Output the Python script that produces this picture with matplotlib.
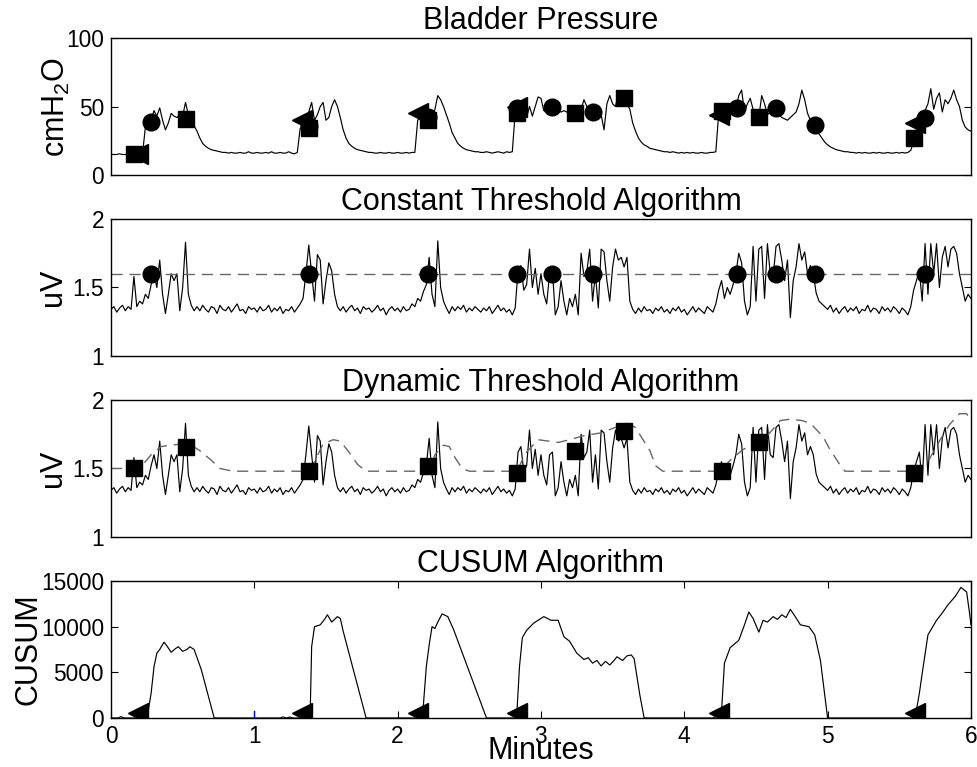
import numpy as np
import matplotlib
matplotlib.use('Agg')
import matplotlib.pyplot as plt

plt.rcParams['font.family'] = ['Liberation Sans', 'DejaVu Sans']

# sample grid, minutes (0.02 min step)
t = np.arange(301) * 0.02

# bladder pressure, cmH2O
pres = [
    15, 15, 15, 15.5, 15, 15, 14.5, 15, 15, 15,
    15, 15.5, 35, 38, 40, 47, 43, 49, 40, 33,
    38, 45, 43, 42, 44, 43, 53, 44, 42, 36,
    32, 27, 23, 21, 19.5, 18.5, 18, 17.5, 17, 16.5,
    16.5, 16, 16.5, 16, 16, 16.5, 16, 16, 17, 16,
    16, 16.5, 16, 16, 16.5, 16, 17, 16, 16, 16.5,
    16, 16, 17, 16, 15.5, 16.5, 34, 36, 40, 46,
    53, 40, 44, 50, 53, 40, 42, 50, 55, 50,
    42, 33, 27, 23, 21, 19.5, 18.5, 18, 17.5, 17,
    16.5, 16.5, 16, 16, 16.5, 16, 16, 16.5, 16, 16,
    16.5, 16, 16, 16.5, 16, 16.5, 16.5, 40, 42, 44,
    46, 47, 41, 48, 58, 55, 50, 44, 38, 31,
    27, 23, 21, 19.5, 18.5, 18, 17.5, 17, 17, 16.5,
    16.5, 17, 16.5, 16, 16.5, 17, 16.5, 16, 17, 16.5,
    17, 45, 50, 48, 46, 42, 50, 43, 50, 57,
    56, 47, 46, 49, 50, 48, 47, 46, 47, 46,
    44, 45, 45, 47, 48, 55, 50, 47, 48, 50,
    47, 44, 33, 52, 58, 52, 50, 60, 57, 55,
    52, 48, 38, 32, 27, 24, 22, 21, 19.5, 19,
    18.5, 18, 17.5, 17, 17, 16.5, 17, 16.5, 16, 16.5,
    16, 16.5, 16, 16.5, 16, 16, 16.5, 16, 16, 16.5,
    16.5, 17, 45, 42, 40, 44, 47, 45, 48, 58,
    62, 46, 52, 56, 48, 38, 42, 58, 52, 44,
    46, 49, 48, 44, 42, 41, 40, 42, 44, 46,
    52, 62, 55, 45, 40, 37, 33, 30, 27, 24,
    22, 20.5, 19.5, 18.5, 18, 17.5, 17, 17, 16.5, 16.5,
    16, 16.5, 16, 16.5, 16, 16, 16.5, 16, 16.5, 16,
    16, 16.5, 16, 16, 16.5, 16, 16.5, 16, 16.5, 18,
    24, 30, 38, 44, 47, 52, 63, 48, 56, 60,
    46, 55, 52, 56, 62, 55, 50, 40, 35, 33,
    32]

# EMG envelope, uV
emg = [
    1.34, 1.36, 1.32, 1.35, 1.37, 1.33, 1.36, 1.34, 1.58, 1.36,
    1.40, 1.38, 1.45, 1.42, 1.52, 1.60, 1.50, 1.70, 1.45, 1.31,
    1.45, 1.60, 1.55, 1.60, 1.33, 1.50, 1.83, 1.45, 1.37, 1.33,
    1.36, 1.33, 1.37, 1.34, 1.32, 1.36, 1.35, 1.31, 1.37, 1.34,
    1.33, 1.36, 1.32, 1.35, 1.38, 1.33, 1.34, 1.31, 1.36, 1.34,
    1.35, 1.32, 1.36, 1.33, 1.34, 1.37, 1.32, 1.35, 1.33, 1.36,
    1.31, 1.34, 1.33, 1.36, 1.32, 1.35, 1.38, 1.42, 1.60, 1.81,
    1.60, 1.40, 1.74, 1.70, 1.38, 1.55, 1.68, 1.62, 1.45, 1.36,
    1.33, 1.36, 1.32, 1.35, 1.37, 1.33, 1.35, 1.31, 1.36, 1.34,
    1.35, 1.32, 1.34, 1.37, 1.33, 1.35, 1.30, 1.34, 1.36, 1.33,
    1.35, 1.32, 1.36, 1.33, 1.34, 1.38, 1.36, 1.42, 1.40, 1.47,
    1.52, 1.72, 1.45, 1.36, 1.84, 1.50, 1.40, 1.35, 1.31, 1.36,
    1.33, 1.36, 1.34, 1.37, 1.32, 1.35, 1.33, 1.36, 1.34, 1.32,
    1.35, 1.33, 1.36, 1.31, 1.34, 1.37, 1.33, 1.35, 1.32, 1.34,
    1.30, 1.35, 1.62, 1.66, 1.48, 1.52, 1.78, 1.50, 1.64, 1.45,
    1.60, 1.45, 1.38, 1.60, 1.62, 1.30, 1.36, 1.55, 1.40, 1.30,
    1.42, 1.36, 1.45, 1.30, 1.75, 1.58, 1.62, 1.78, 1.40, 1.60,
    1.35, 1.78, 1.76, 1.55, 1.40, 1.65, 1.78, 1.70, 1.72, 1.65,
    1.72, 1.40, 1.34, 1.31, 1.35, 1.32, 1.36, 1.33, 1.34, 1.31,
    1.35, 1.33, 1.36, 1.32, 1.34, 1.31, 1.35, 1.33, 1.36, 1.32,
    1.34, 1.30, 1.33, 1.36, 1.32, 1.35, 1.33, 1.31, 1.36, 1.34,
    1.32, 1.38, 1.48, 1.55, 1.42, 1.50, 1.45, 1.52, 1.60, 1.75,
    1.68, 1.40, 1.30, 1.36, 1.80, 1.40, 1.78, 1.80, 1.42, 1.82,
    1.60, 1.58, 1.80, 1.82, 1.70, 1.55, 1.70, 1.28, 1.55, 1.65,
    1.82, 1.70, 1.76, 1.60, 1.66, 1.60, 1.46, 1.40, 1.38, 1.36,
    1.34, 1.37, 1.32, 1.35, 1.31, 1.34, 1.36, 1.32, 1.35, 1.33,
    1.36, 1.31, 1.34, 1.33, 1.37, 1.32, 1.35, 1.34, 1.31, 1.36,
    1.33, 1.35, 1.32, 1.36, 1.34, 1.31, 1.35, 1.33, 1.30, 1.36,
    1.48, 1.55, 1.62, 1.40, 1.82, 1.45, 1.82, 1.60, 1.82, 1.50,
    1.72, 1.80, 1.65, 1.78, 1.80, 1.75, 1.60, 1.50, 1.40, 1.45,
    1.42]

const_thr = 1.6

# dynamic threshold
dyn_t = [0, 0.2, 0.28, 0.35, 0.5, 0.56, 0.62, 0.7, 0.76, 0.85,
         1.38, 1.42, 1.48, 1.55, 1.6, 1.66, 1.72, 1.78,
         2.22, 2.26, 2.32, 2.36, 2.4, 2.45, 2.5,
         2.83, 2.9, 2.98, 3.05, 3.12, 3.2, 3.3, 3.42, 3.52, 3.6,
         3.66, 3.7, 3.76, 3.8, 3.85, 3.9,
         4.26, 4.31, 4.4, 4.5, 4.58, 4.67, 4.74, 4.82, 4.88, 4.97,
         5.01, 5.09, 5.12,
         5.62, 5.7, 5.78, 5.85, 5.92, 5.97, 6.0]
dyn_v = [1.5, 1.5, 1.6, 1.66, 1.68, 1.67, 1.63, 1.56, 1.5, 1.48,
         1.48, 1.55, 1.68, 1.71, 1.7, 1.62, 1.53, 1.48,
         1.48, 1.6, 1.67, 1.66, 1.58, 1.5, 1.48,
         1.48, 1.62, 1.71, 1.70, 1.69, 1.71, 1.74, 1.76, 1.80, 1.83,
         1.80, 1.73, 1.63, 1.52, 1.48, 1.48,
         1.48, 1.55, 1.63, 1.70, 1.74, 1.85, 1.86, 1.85, 1.83, 1.73,
         1.65, 1.52, 1.48,
         1.48, 1.55, 1.70, 1.82, 1.9, 1.9, 1.85]

# CUSUM statistic
cus_t = [0, 0.05, 0.07, 0.09, 0.24, 0.26, 0.28, 0.3, 0.32, 0.34, 0.37, 0.39, 0.42,
         0.45, 0.47, 0.5, 0.53, 0.55, 0.58, 0.63, 0.72,
         1.18, 1.2, 1.22, 1.25, 1.27, 1.38, 1.39, 1.4, 1.42, 1.46, 1.49, 1.51, 1.54,
         1.58, 1.6, 1.62, 1.78,
         2.16, 2.18, 2.2, 2.22, 2.24, 2.26, 2.28, 2.31, 2.35, 2.39, 2.62,
         2.83, 2.85, 2.87, 2.9, 2.95, 3.02, 3.07, 3.12, 3.16, 3.2, 3.25, 3.3, 3.33,
         3.36, 3.39, 3.42, 3.45, 3.48, 3.51, 3.53, 3.57, 3.6, 3.63, 3.65, 3.69, 3.72,
         4.2, 4.22, 4.24, 4.26, 4.28, 4.32, 4.38, 4.42, 4.45, 4.48, 4.52, 4.55, 4.58,
         4.62, 4.65, 4.68, 4.71, 4.74, 4.77, 4.81, 4.87, 4.91, 4.95, 4.98, 5.0,
         5.61, 5.64, 5.66, 5.7, 5.73, 5.76, 5.8, 5.84, 5.89, 5.93, 5.97, 5.99, 6.0]
cus_v = [0, 0, 150, 0, 0, 800, 2700, 5600, 7100, 7500, 8300, 7900, 7200,
         7600, 7800, 7300, 7500, 7800, 7500, 5300, 0,
         0, 120, 0, 100, 0, 0, 600, 7800, 10000, 10200, 10800, 11300, 10500,
         11100, 10900, 9500, 0,
         0, 1500, 5600, 8000, 10000, 9800, 10500, 11400, 11100, 9700, 0,
         0, 5600, 8800, 9600, 10400, 11100, 10700, 10700, 8900, 8400, 7100, 6400, 6600,
         6000, 6300, 5700, 6200, 5800, 6300, 6700, 6300, 6800, 6900, 6500, 2500, 0,
         0, 150, 0, 800, 6000, 7700, 8500, 10200, 11600, 10900, 9400, 10700, 10500,
         11100, 10800, 11300, 11000, 11900, 11200, 10200, 10000, 9100, 6300, 2500, 0,
         0, 2700, 4900, 9100, 9900, 10700, 11500, 12400, 13300, 14300, 13800, 11500, 10200]

# detections
const_det_t = [0.28, 1.38, 2.21, 2.83, 3.08, 3.36, 4.37, 4.64, 4.91, 5.68]
const_det_p = [38.7, 36, 42, 49, 50, 46, 49, 49, 36.5, 41.5]
dyn_det_t = [0.16, 0.52, 1.38, 2.21, 2.83, 3.24, 3.58, 4.26, 4.52, 5.60]
dyn_det_v = [1.50, 1.66, 1.48, 1.52, 1.47, 1.63, 1.77, 1.48, 1.69, 1.47]
dyn_det_p = [15, 41, 34, 40, 45, 45, 56, 47, 42, 27]
cus_det_t = [0.19, 1.33, 2.14, 2.83, 4.24, 5.61]
cus_det_v = [550, 550, 550, 550, 550, 550]
cus_det_p = [15, 40, 45, 50, 44, 38]

blip_t = [1, 1]
blip_v = [0, 800]

fig = plt.figure(figsize=(9.77, 7.67), dpi=100)
left, width, height = 0.1136, 0.8802, 0.1786
bottoms = [0.7718, 0.5359, 0.2999, 0.0639]
axes = [fig.add_axes([left, b, width, height]) for b in bottoms]

ms_sq, ms_ci, ms_tri = 11.5, 12, 15
lw_sig = 0.85
dash = (0, (8, 5))
dcol = '0.4'

ax1, ax2, ax3, ax4 = axes

ax1.plot(t, pres, color='k', lw=lw_sig)
ax1.plot(dyn_det_t, dyn_det_p, 's', color='k', ms=ms_sq)
ax1.plot(const_det_t, const_det_p, 'o', color='k', ms=ms_ci)
ax1.plot(cus_det_t, cus_det_p, '<', color='k', ms=ms_tri)
ax1.set_ylim(0, 100)
ax1.set_yticks([0, 50, 100])
ax1.set_title('Bladder Pressure', fontsize=22, pad=6.3)
ax1.set_ylabel('cmH$_\\mathregular{2}$O', fontsize=22)

ax2.plot(t, emg, color='k', lw=lw_sig)
ax2.plot([0, 6], [const_thr, const_thr], color=dcol, lw=1, linestyle=dash)
ax2.plot(const_det_t, [const_thr] * len(const_det_t), 'o', color='k', ms=ms_ci)
ax2.set_ylim(1, 2)
ax2.set_yticks([1, 1.5, 2])
ax2.set_yticklabels(['1', '1.5', '2'])
ax2.set_title('Constant Threshold Algorithm', fontsize=22, pad=6.3)
ax2.set_ylabel('uV', fontsize=22)

ax3.plot(t, emg, color='k', lw=lw_sig)
ax3.plot(dyn_t, dyn_v, color=dcol, lw=1, linestyle=dash)
ax3.plot(dyn_det_t, dyn_det_v, 's', color='k', ms=ms_sq)
ax3.set_ylim(1, 2)
ax3.set_yticks([1, 1.5, 2])
ax3.set_yticklabels(['1', '1.5', '2'])
ax3.set_title('Dynamic Threshold Algorithm', fontsize=22, pad=6.3)
ax3.set_ylabel('uV', fontsize=22)

ax4.plot(cus_t, cus_v, color='k', lw=lw_sig)
ax4.plot(blip_t, blip_v, color='b', lw=1)
ax4.plot(cus_det_t, cus_det_v, '<', color='k', ms=ms_tri)
ax4.set_ylim(0, 15000)
ax4.set_yticks([0, 5000, 10000, 15000])
ax4.set_xticks(range(7))
ax4.set_title('CUSUM Algorithm', fontsize=22, pad=6.3)
ax4.set_ylabel('CUSUM', fontsize=22)
ax4.set_xlabel('Minutes', fontsize=22)
ax4.xaxis.set_label_coords(0.5, -0.132)

for ax in axes:
    ax.set_xlim(0, 6)
    ax.tick_params(direction='in', length=4.7, width=0.8, labelsize=16.4,
                   pad=5, top=True, right=True)
    for s in ax.spines.values():
        s.set_linewidth(1.0)
for ax in axes[:3]:
    ax.set_xticks([])

ax1.yaxis.set_label_coords(-0.045, 0.5)
ax2.yaxis.set_label_coords(-0.05, 0.5)
ax3.yaxis.set_label_coords(-0.05, 0.5)
ax4.yaxis.set_label_coords(-0.079, 0.5)

fig.savefig('out.png', dpi=100)
